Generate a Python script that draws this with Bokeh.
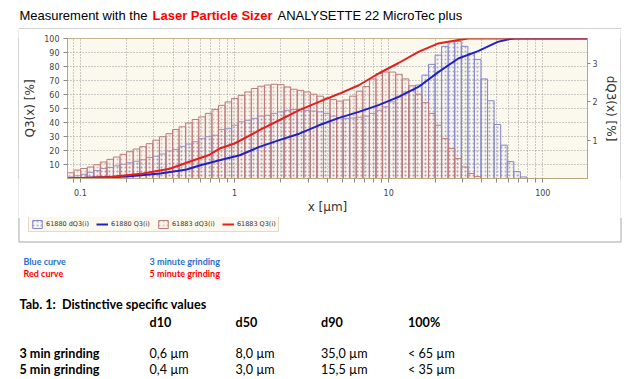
from bokeh.plotting import figure
from bokeh.layouts import column, row
from bokeh.models import (Range1d, LinearAxis, FixedTicker, CustomJSTickFormatter,
                          Label, BoxAnnotation, Legend, LegendItem, Spacer)
from bokeh.embed import file_html
from bokeh.resources import INLINE

# ---------------- data ----------------
bin_edges = [0.0825, 0.0910, 0.1004, 0.1107, 0.1221, 0.1347, 0.1486, 0.1639, 0.1808, 0.1994,
             0.2200, 0.2426, 0.2676, 0.2951, 0.3256, 0.3591, 0.3961, 0.4369, 0.4819, 0.5315,
             0.5862, 0.6467, 0.7134, 0.7868, 0.8679, 0.9572, 1.056, 1.165, 1.285, 1.417,
             1.563, 1.724, 1.901, 2.097, 2.313, 2.551, 2.814, 3.105, 3.423, 3.777,
             4.166, 4.595, 5.069, 5.590, 6.166, 6.802, 7.503, 8.277, 9.128, 10.07,
             11.11, 12.25, 13.51, 14.90, 16.44, 18.13, 20.00, 22.06, 24.33, 26.84,
             29.61, 32.66, 36.02, 39.72, 43.82, 48.33, 53.32, 58.81, 64.85, 71.54, 78.90]

dq3_61883 = [0.15, 0.22, 0.26, 0.30, 0.36, 0.43, 0.50, 0.56, 0.63, 0.70,
             0.77, 0.83, 0.91, 1.00, 1.09, 1.17, 1.28, 1.35, 1.45, 1.54,
             1.61, 1.70, 1.80, 1.91, 2.00, 2.09, 2.17, 2.26, 2.35, 2.41,
             2.44, 2.46, 2.45, 2.39, 2.33, 2.30, 2.26, 2.20, 2.15, 2.10,
             2.06, 2.02, 2.05, 2.15, 2.28, 2.40, 2.60, 2.74, 2.78, 2.78,
             2.72, 2.60, 2.42, 2.20, 1.98, 1.70, 1.39, 1.04, 0.78, 0.52,
             0.30, 0.13, 0.05, 0, 0, 0, 0, 0, 0, 0]

dq3_61880 = [0.04, 0.07, 0.11, 0.16, 0.21, 0.26, 0.29, 0.33, 0.37, 0.41,
             0.45, 0.49, 0.55, 0.58, 0.64, 0.72, 0.76, 0.84, 0.90, 0.96,
             1.04, 1.09, 1.13, 1.28, 1.30, 1.39, 1.48, 1.52, 1.57, 1.63,
             1.65, 1.70, 1.74, 1.78, 1.80, 1.80, 1.78, 1.76, 1.74, 1.70,
             1.63, 1.59, 1.57, 1.58, 1.60, 1.63, 1.70, 1.78, 1.87, 2.00,
             2.13, 2.26, 2.30, 2.44, 2.70, 2.98, 3.22, 3.45, 3.57, 3.58,
             3.45, 3.26, 3.11, 2.60, 2.03, 1.41, 0.87, 0.44, 0.18, 0.04]

q3_size_61883 = [0.0825, 0.156, 0.255, 0.38, 0.51, 0.69, 0.8, 1.0, 1.45, 1.95, 2.63, 3.53,
                 4.76, 6.4, 8.6, 11.6, 15.6, 21.0, 28.3, 33.0, 200]
q3_61883 = [0, 1, 3.5, 7, 12, 17, 21.4, 25, 34.5, 41.6, 48.8, 54.7,
            60.5, 66.6, 75, 82.5, 90.5, 96.5, 99, 100, 100]

q3_size_61880 = [0.0825, 0.2, 0.33, 0.49, 0.6, 0.8, 1.08, 1.45, 1.95, 2.63, 3.53, 4.76,
                 6.4, 8.6, 11.6, 15.6, 21.0, 28.3, 38.0, 51.0, 60.0, 66.0, 200]
q3_61880 = [0, 1.4, 3.6, 6.4, 9.5, 13, 16.6, 22.6, 27.4, 32, 38, 43.3,
            47.6, 52.4, 58.3, 65.4, 76, 85.7, 91, 97.6, 99.5, 100, 100]

x_major_ticks = [0.1, 1, 10, 100]
x_minor_ticks = [0.09, 0.2, 0.3, 0.4, 0.5, 0.6, 0.7, 0.8, 0.9,
                 2, 3, 4, 5, 6, 7, 8, 9, 20, 30, 40, 50, 60, 70, 80, 90]
y_ticks = [10, 20, 30, 40, 50, 60, 70, 80, 90, 100]
dq_ticks = [1, 2, 3]

legend_labels = ["61880 dQ3(i)", "61880 Q3(i)", "61883 dQ3(i)", "61883 Q3(i)"]

table_header = ["d10", "d50", "d90", "100%"]
row_names = ["3 min grinding", "5 min grinding"]
row_values = [["0,6 µm", "8,0 µm", "35,0 µm", "< 65 µm"],
              ["0,4 µm", "3,0 µm", "15,5 µm", "< 35 µm"]]

BOX = "#A8A8A8"
BLUE_TXT = "#1F6FD0"
CREAM = "#FBF8EE"

BLUE_BAR = dict(fill_color="#E4E4F6", fill_alpha=0.15, line_color="#8686CC", line_width=1,
                hatch_pattern="dot", hatch_scale=4, hatch_color="#6A6AA0", hatch_alpha=0.5)
RED_BAR = dict(fill_color="#F6E2E2", fill_alpha=0.15, line_color="#BC7C7C", line_width=1,
               hatch_pattern="dot", hatch_scale=4, hatch_color="#D06A6A", hatch_alpha=0.45)
BLUE_LINE = dict(line_color="#2020C8", line_width=2)
RED_LINE = dict(line_color="#E61E1E", line_width=2)


def blank(width, height, fill="white"):
    f = figure(width=width, height=height, x_range=Range1d(0, width), y_range=Range1d(height, 0),
               x_axis_location=None, y_axis_location=None, toolbar_location=None,
               output_backend="svg", min_border=0, outline_line_color=None,
               background_fill_color=fill, border_fill_color=fill)
    f.grid.visible = False
    return f


def lab(f, text, x, y, size, color="#000000", font="Lato", style="normal"):
    f.add_layout(Label(x=x, y=y, text=text, text_font=font, text_font_size=size,
                       text_color=color, text_font_style=style,
                       text_baseline="middle", text_align="left"))


def hbar(f, left, right, top, bottom):
    f.add_layout(BoxAnnotation(left=left, right=right, top=top, bottom=bottom,
                               fill_color=BOX, fill_alpha=1, line_alpha=0))


# ---------------- head (title) : page y 0..29 ----------------
head = blank(624, 29)
lab(head, "Measurement with the", 19, 15, "13px", font="Liberation Sans")
lab(head, "Laser Particle Sizer", 152, 15, "13px", color="#FF0000", font="Liberation Sans", style="bold")
lab(head, "ANALYSETTE 22 MicroTec plus", 277, 15, "13px", font="Liberation Sans")
hbar(head, 18, 621, 28, 29)

# ---------------- main chart : page x 19..620, y 29..217 ----------------
p = figure(width=601, height=188, x_axis_type="log",
           x_range=Range1d(0.0825, 195), y_range=Range1d(0, 100),
           output_backend="svg", toolbar_location=None,
           min_border_left=48, min_border_right=30, min_border_top=9, min_border_bottom=39,
           background_fill_color=CREAM, border_fill_color="white")
p.outline_line_color = "#C2B28E"
p.extra_y_ranges = {"dq": Range1d(0, 3.655)}

p.xgrid.ticker = FixedTicker(ticks=x_major_ticks, minor_ticks=x_minor_ticks)
p.xgrid.grid_line_color = "#9A9A9A"
p.xgrid.grid_line_dash = "1 2"
p.xgrid.minor_grid_line_color = "#9A9A9A"
p.xgrid.minor_grid_line_dash = "1 2"
p.ygrid.ticker = FixedTicker(ticks=y_ticks)
p.ygrid.grid_line_color = "#9A9A9A"
p.ygrid.grid_line_dash = "1 2"

p.quad(left=bin_edges[:-1], right=bin_edges[1:], bottom=0, top=dq3_61880, y_range_name="dq", **BLUE_BAR)
p.quad(left=bin_edges[:-1], right=bin_edges[1:], bottom=0, top=dq3_61883, y_range_name="dq", **RED_BAR)
p.line(q3_size_61880, q3_61880, **BLUE_LINE)
p.line(q3_size_61883, q3_61883, **RED_LINE)

xa = p.xaxis[0]
xa.ticker = FixedTicker(ticks=x_major_ticks, minor_ticks=x_minor_ticks)
xa.formatter = CustomJSTickFormatter(code="return String(tick)")
xa.axis_label = "x [µm]"
ya = p.yaxis[0]
ya.ticker = FixedTicker(ticks=y_ticks)
ya.axis_label = "Q3(x) [%]"
ra = LinearAxis(y_range_name="dq", ticker=FixedTicker(ticks=dq_ticks), axis_label="dQ3(x) [%]")
p.add_layout(ra, "right")

for ax in (xa, ya, ra):
    ax.axis_line_color = "#B8A67E"
    ax.major_tick_line_color = "#8A8A8A"
    ax.minor_tick_line_color = "#8A8A8A"
    ax.major_tick_in = 0
    ax.major_tick_out = 4
    ax.minor_tick_in = 0
    ax.minor_tick_out = 4
    ax.major_label_text_font = "DejaVu Sans"
    ax.major_label_text_font_size = "8px"
    ax.major_label_text_color = "#444444"
    ax.axis_label_text_font = "DejaVu Sans"
    ax.axis_label_text_font_size = "12px"
    ax.axis_label_text_font_style = "normal"
    ax.axis_label_text_color = "#333333"
xa.major_label_standoff = 6
xa.axis_label_standoff = 1
ya.major_label_standoff = 4
ya.axis_label_standoff = 4
ra.major_tick_out = 3
ra.major_label_standoff = 2
ra.axis_label_standoff = 3


def vline(height):
    return blank(1, height, fill=BOX)


middle = row(Spacer(width=18, height=188), vline(188), p, vline(188))

# ---------------- tail (legend, notes, table) : page y 217..379 ----------------
T0 = 217
TH = 162
tail = blank(624, TH)
# rest of the box around the chart
hbar(tail, 18, 19, 0, 24)
hbar(tail, 620, 621, 0, 24)
hbar(tail, 18, 621, 24, 25)

# legend (its renderers use the same series, on a range that keeps them out of view)
tail.extra_x_ranges = {"lx": Range1d(0.0825, 195)}
tail.extra_y_ranges = {"ly": Range1d(500, 524)}
lb = tail.quad(left=bin_edges[:-1], right=bin_edges[1:], bottom=0, top=dq3_61880,
               x_range_name="lx", y_range_name="ly", **BLUE_BAR)
ll = tail.line(q3_size_61880, q3_61880, x_range_name="lx", y_range_name="ly", **BLUE_LINE)
rb = tail.quad(left=bin_edges[:-1], right=bin_edges[1:], bottom=0, top=dq3_61883,
               x_range_name="lx", y_range_name="ly", **RED_BAR)
rl = tail.line(q3_size_61883, q3_61883, x_range_name="lx", y_range_name="ly", **RED_LINE)
legend = Legend(items=[LegendItem(label=legend_labels[0], renderers=[lb]),
                       LegendItem(label=legend_labels[1], renderers=[ll]),
                       LegendItem(label=legend_labels[2], renderers=[rb]),
                       LegendItem(label=legend_labels[3], renderers=[rl])],
                location=(28, TH - (232 - T0)), orientation="horizontal",
                glyph_width=12, glyph_height=10, label_height=10, label_standoff=3,
                spacing=7, padding=2, margin=0,
                label_text_font="DejaVu Sans", label_text_font_size="6.5px",
                label_text_color="#333333",
                background_fill_color=CREAM, background_fill_alpha=1,
                border_line_color="#CDBE9C", border_line_width=1)
tail.add_layout(legend)

lab(tail, "Blue curve", 23, 261 - T0, "9px", color=BLUE_TXT, style="bold")
lab(tail, "Red curve", 23, 273 - T0, "9px", color="#FF0000", style="bold")
lab(tail, "3 minute grinding", 149, 261 - T0, "9px", color=BLUE_TXT, style="bold")
lab(tail, "5 minute grinding", 149, 273 - T0, "9px", color="#FF0000", style="bold")

col_x = [149, 235, 320.5, 407.5]
lab(tail, "Tab. 1:\u00a0 Distinctive specific values", 19, 304 - T0, "12.6px", style="bold")
for cx, h in zip(col_x, table_header):
    lab(tail, h, cx, 321.5 - T0, "12.6px", style="bold")
row_y = [352.7, 369]
for ry, name, vals in zip(row_y, row_names, row_values):
    lab(tail, name, 19, ry - T0, "12.6px", style="bold")
    for cx, v in zip(col_x, vals):
        lab(tail, v, cx, ry - T0, "12.6px")

layout = column(head, middle, tail)
open("out.html", "w").write(file_html(layout, INLINE))
